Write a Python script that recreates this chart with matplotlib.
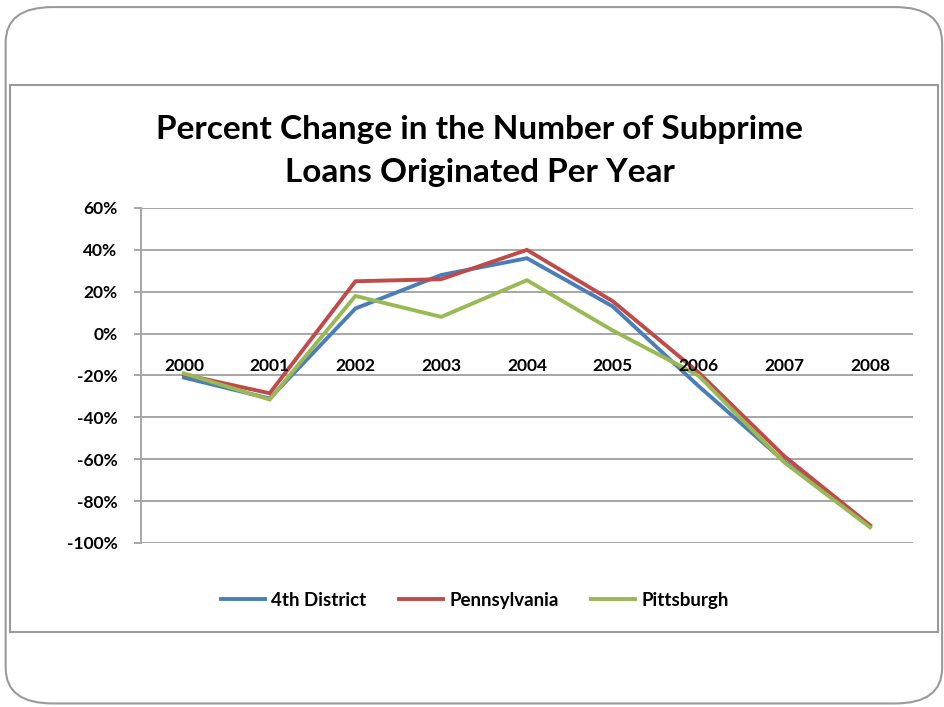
import matplotlib.pyplot as plt
from matplotlib.patches import FancyBboxPatch, Rectangle
from matplotlib.lines import Line2D
import numpy as np

plt.rcParams['font.family'] = ['Lato', 'DejaVu Sans']

# Data
years = ['2000', '2001', '2002', '2003', '2004', '2005', '2006', '2007', '2008']
fourth_district = [-21, -31, 12, 28, 36, 13, -25, -61, -92]
pennsylvania = [-19.5, -28.5, 25, 26, 40, 15.5, -18.5, -58.5, -91.5]
pittsburgh = [-19, -31.5, 18, 8, 25.5, 1.5, -20, -61.5, -92.5]

series = [
    ('4th District', fourth_district, '#4a7ebb'),
    ('Pennsylvania', pennsylvania, '#be4b48'),
    ('Pittsburgh', pittsburgh, '#98b954'),
]

fig = plt.figure(figsize=(9.44, 7.07), dpi=100)

# outer rounded frame and inner chart box
fig.patches.append(FancyBboxPatch((0.006, 0.005), 0.992, 0.985,
                                  boxstyle='round,pad=0,rounding_size=0.05',
                                  transform=fig.transFigure, fill=False,
                                  edgecolor='#9a9a9a', linewidth=1.5))
fig.patches.append(Rectangle((0.011, 0.106), 0.983, 0.774,
                             transform=fig.transFigure, fill=False,
                             edgecolor='#9a9a9a', linewidth=1.5))

ax = fig.add_axes([0.1494, 0.232, 0.8176, 0.4738])
x = np.arange(len(years))
for name, vals, color in series:
    ax.plot(x, vals, color=color, linewidth=2.8, label=name,
            solid_joinstyle='miter')

ax.set_xlim(-0.5, len(years) - 0.5)
ax.set_ylim(-100, 60)
yticks = np.arange(-100, 61, 20)
ax.set_yticks(yticks)
ax.set_yticklabels([f'{v}%' for v in yticks], fontsize=12.5, fontweight='bold')
ax.set_xticks([])
ax.grid(axis='y', color='#a6a6a6', linewidth=1.4)
ax.set_axisbelow(True)
for s in ['top', 'right', 'bottom']:
    ax.spines[s].set_visible(False)
ax.spines['left'].set_color('#a6a6a6')
ax.spines['left'].set_linewidth(1.4)
ax.tick_params(axis='y', length=5, width=1.4, color='#a6a6a6', pad=12)

# category labels sit along the zero line, drawn over the lines
for xi, yr in zip(x, years):
    ax.text(xi, -15.6, yr, ha='center', va='center', fontsize=12.5,
            fontweight='bold', zorder=3)

fig.text(0.508, 0.787, 'Percent Change in the Number of Subprime\nLoans Originated Per Year',
         ha='center', va='center', fontsize=24, fontweight='bold',
         linespacing=1.58)

handles = [Line2D([], [], color=c, linewidth=2.8) for _, _, c in series]
fig.legend(handles, [n for n, _, _ in series], loc='center',
           bbox_to_anchor=(0.503, 0.151), ncol=3, frameon=False,
           prop={'size': 13.5, 'weight': 'bold'}, handlelength=2.35,
           columnspacing=1.75, handletextpad=0.32)

fig.savefig('out.png', dpi=100)
